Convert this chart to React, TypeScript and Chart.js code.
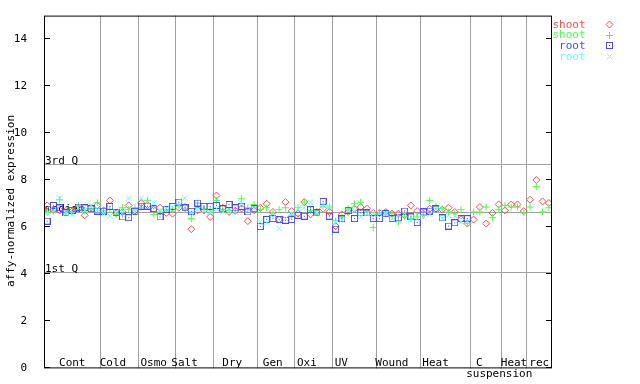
import React, { useEffect, useRef } from "react";
import { Chart, registerables } from "chart.js";
import { drawPoint } from "chart.js/helpers";

Chart.register(...registerables);

// ---- data ----
const groupLabels = ["Cont", "Cold  ", "Osmo ", "Salt   ", "Dry ", "Gen ", "Oxi  ", "UV    ", "Wound  ", "Heat   ", "C  ", "Heat", "rec"];
const groupSubLabels = ["", "", "", "", "", "", "", "", "", "", "    suspension", "", ""];
const groupSizes = [9, 6, 6, 6, 7, 6, 6, 7, 7, 8, 5, 4, 4];

const shootRep1 = [
  6.93, 6.75, 6.72, 6.70, 6.68, 6.80, 6.51, 6.83, 6.93,
  6.72, 7.14, 6.61, 6.65, 6.93, 6.70,
  7.03, 6.95, 6.75, 6.83, 6.61, 6.58,
  6.83, 6.86, 5.92, 6.72, 6.72, 6.44,
  7.35, 6.83, 6.65, 6.70, 6.80, 6.26, 6.72,
  6.83, 7.00, 6.65, 6.33, 7.07, 6.69,
  6.58, 7.07, 6.55, 6.65, 6.79, 6.65,
  6.05, 6.55, 6.65, 6.79, 6.86, 6.79, 6.61,
  6.61, 6.65, 6.58, 6.58, 6.51, 6.93, 6.69,
  6.58, 6.79, 6.79, 6.75, 6.83, 6.65, 6.34, 6.16,
  6.33, 6.86, 6.16, 6.61, 6.97,
  6.72, 6.97, 6.97, 6.69,
  7.17, 8.01, 7.10, 7.03,
];
const shootRep2 = [
  6.62, 6.69, 7.17, 6.65, 6.65, 6.93, 6.69, 6.80, 7.04,
  6.70, 6.75, 6.55, 6.83, 6.76, 6.83,
  6.85, 7.14, 6.55, 6.65, 6.75, 6.75,
  6.90, 6.75, 6.37, 7.03, 6.80, 6.70,
  7.14, 6.75, 6.72, 6.72, 7.21, 6.83, 6.97,
  6.75, 6.83, 6.58, 6.75, 6.83, 6.51,
  6.83, 7.07, 6.72, 6.61, 6.90, 6.86,
  6.27, 6.44, 6.79, 7.00, 7.07, 6.65, 5.99,
  6.58, 6.62, 6.58, 6.23, 6.47, 6.37, 6.47,
  6.51, 7.14, 6.90, 6.79, 6.65, 6.58, 6.75, 6.16,
  6.65, 6.65, 6.86, 6.41, 6.75,
  6.93, 6.86, 6.86, 6.61,
  6.86, 7.73, 6.65, 6.83,
];
const rootRep1 = [
  6.26, 6.93, 6.83, 6.62, 6.72, 6.86, 6.83, 6.79, 6.69,
  6.69, 6.89, 6.62, 6.44, 6.41, 6.68,
  6.90, 6.90, 6.79, 6.44, 6.76, 6.89,
  7.07, 6.83, 6.68, 7.03, 6.89, 6.89,
  6.93, 6.79, 6.97, 6.83, 6.89, 6.65, 6.79,
  6.03, 6.33, 6.37, 6.33, 6.30, 6.33,
  6.51, 6.47, 6.75, 6.61, 7.10, 6.47,
  5.92, 6.37, 6.72, 6.37, 6.61, 6.61, 6.37,
  6.37, 6.58, 6.37, 6.40, 6.69, 6.44, 6.20,
  6.65, 6.69, 6.79, 6.40, 6.05, 6.19, 6.37, 6.37,
];
const rootRep2 = [
  6.62, 6.70, 7.24, 6.60, 6.55, 6.83, 6.72, 6.93, 6.75,
  6.58, 6.48, 6.65, 6.62, 7.24, 6.65,
  7.24, 7.07, 7.03, 6.70, 6.79, 6.86,
  6.96, 7.24, 6.60, 6.75, 6.72, 6.65,
  6.80, 6.65, 6.70, 6.65, 7.03, 6.72, 6.79,
  6.23, 6.19, 6.58, 5.95, 6.37, 6.58,
  6.79, 6.83, 7.07, 6.61, 6.93, 6.86,
  6.23, 6.30, 6.72, 6.72, 6.44, 6.58, 6.58,
  6.58, 6.58, 6.37, 6.51, 6.58, 6.30, 6.37,
  6.44, 6.55, 6.75, 6.37, 6.51, 6.50, 6.23, 6.23,
];
const seriesLabels = ["shoot", "shoot", "root", "root"];
const yTicks = [0, 2, 4, 6, 8, 10, 12, 14];
const quartile3 = 8.69;
const medianValue = 6.64;
const quartile1 = 4.1;
const yTitle = "affy-normalized expression";

const FONT = '11px "DejaVu Sans Mono", monospace';
const RED = "#ff4848";
const GREEN = "#48ff48";
const BLUE = "#4848ff";
const CYAN = "#66ffff";
const GRAY = "#a0a0a0";

function squareDot(color: string): HTMLCanvasElement {
  const c = document.createElement("canvas");
  c.width = 7;
  c.height = 7;
  const g = c.getContext("2d")!;
  g.strokeStyle = color;
  g.lineWidth = 1;
  g.strokeRect(0.5, 0.5, 6, 6);
  g.fillStyle = color;
  g.fillRect(3, 3, 1, 1);
  return c;
}

const overlay = {
  id: "overlay",
  beforeDatasetsDraw(chart: any) {
    const { ctx, chartArea: a, scales } = chart;
    const x = scales.x;
    const y = scales.y;
    ctx.save();
    ctx.strokeStyle = GRAY;
    ctx.lineWidth = 1;
    // group separators
    const bounds: number[] = [a.left];
    let start = 0;
    groupSizes.forEach((n, gi) => {
      const last = start + n - 1;
      if (gi < groupSizes.length - 1) {
        const px = Math.round(x.getPixelForValue(last + 0.42)) + 0.5;
        ctx.beginPath();
        ctx.moveTo(px, a.top);
        ctx.lineTo(px, a.bottom);
        ctx.stroke();
        bounds.push(px);
      } else {
        bounds.push(a.right);
      }
      start += n;
    });
    // quartile lines
    [quartile3, medianValue, quartile1].forEach((v) => {
      const py = Math.round(y.getPixelForValue(v)) + 0.5;
      ctx.beginPath();
      ctx.moveTo(a.left, py);
      ctx.lineTo(a.right, py);
      ctx.stroke();
    });
    ctx.font = FONT;
    ctx.fillStyle = "#000";
    ctx.textBaseline = "alphabetic";
    ctx.textAlign = "left";
    ctx.fillText("3rd Q", a.left + 1, Math.round(y.getPixelForValue(quartile3)) - 0.5);
    ctx.fillText("median", a.left + 1, Math.round(y.getPixelForValue(medianValue)) - 0.5);
    ctx.fillText("1st Q", a.left + 1, Math.round(y.getPixelForValue(quartile1)) - 0.5);
    // group labels
    ctx.textAlign = "center";
    groupLabels.forEach((lab, gi) => {
      const cx = (bounds[gi] + bounds[gi + 1]) / 2;
      ctx.fillText(lab, cx, a.bottom - 2.5);
      if (groupSubLabels[gi]) ctx.fillText(groupSubLabels[gi], cx, a.bottom + 8.5);
    });
    ctx.restore();
  },
  afterDraw(chart: any) {
    const { ctx, chartArea: a, scales } = chart;
    const y = scales.y;
    ctx.save();
    ctx.strokeStyle = "#000";
    ctx.lineWidth = 1;
    ctx.strokeRect(a.left + 0.5, a.top + 0.5, a.right - a.left - 1, a.bottom - a.top - 1);
    ctx.beginPath();
    yTicks.forEach((t) => {
      const py = Math.round(y.getPixelForValue(t)) - 0.5;
      ctx.moveTo(a.left, py);
      ctx.lineTo(a.left + 6, py);
      ctx.moveTo(a.right, py);
      ctx.lineTo(a.right - 6, py);
    });
    ctx.stroke();
    // y title
    ctx.font = FONT;
    ctx.fillStyle = "#000";
    ctx.save();
    ctx.translate(11, 201);
    ctx.rotate(-Math.PI / 2);
    ctx.textAlign = "center";
    ctx.textBaseline = "middle";
    ctx.fillText(yTitle, 0, 0);
    ctx.restore();
    // legend
    chart.data.datasets.forEach((ds: any, i: number) => {
      const rowY = 24 + i * 10.7;
      ctx.font = FONT;
      ctx.textAlign = "right";
      ctx.textBaseline = "alphabetic";
      ctx.fillStyle = ds.borderColor;
      ctx.fillText(ds.label, 585.5, rowY + 3.5);
      ctx.strokeStyle = ds.borderColor;
      ctx.fillStyle = "rgba(0,0,0,0)";
      ctx.lineWidth = 1;
      drawPoint(ctx, { pointStyle: ds.pointStyle, radius: ds.pointRadius, rotation: 0, borderWidth: 1 }, 609.5, Math.round(rowY) + 0.5);
    });
    ctx.restore();
  },
};

export default function App() {
  const ref = useRef<HTMLCanvasElement | null>(null);
  useEffect(() => {
    document.body.style.margin = "0";
    if (!ref.current) return;
    const pts = (arr: number[]) => arr.map((v, i) => ({ x: i, y: v }));
    const chart = new Chart(ref.current, {
      type: "scatter",
      data: {
        datasets: [
          { label: seriesLabels[0], data: pts(shootRep1), pointStyle: "rectRot", pointRadius: 3.5, borderColor: RED, backgroundColor: "rgba(0,0,0,0)", borderWidth: 1, order: 4 },
          { label: seriesLabels[1], data: pts(shootRep2), pointStyle: "cross", pointRadius: 3.5, borderColor: GREEN, backgroundColor: "rgba(0,0,0,0)", borderWidth: 1, order: 3 },
          { label: seriesLabels[2], data: pts(rootRep1), pointStyle: squareDot(BLUE), pointRadius: 3.5, borderColor: BLUE, backgroundColor: "rgba(0,0,0,0)", borderWidth: 1, order: 2 },
          { label: seriesLabels[3], data: pts(rootRep2), pointStyle: "crossRot", pointRadius: 4, borderColor: CYAN, backgroundColor: "rgba(0,0,0,0)", borderWidth: 1, order: 1 },
        ] as any,
      },
      options: {
        animation: false,
        responsive: false,
        maintainAspectRatio: false,
        layout: { padding: { left: 0, right: 88, top: 13, bottom: 14 } },
        plugins: { legend: { display: false }, tooltip: { enabled: false } },
        scales: {
          x: { type: "linear", min: -0.5, max: 80.5, display: false },
          y: {
            type: "linear",
            min: 0,
            max: 15,
            afterFit(s: any) { s.width = 44; },
            afterBuildTicks(s: any) { s.ticks = yTicks.map((v) => ({ value: v })); },
            grid: { display: false },
            border: { display: false },
            ticks: { padding: 9, color: "#000", font: { family: "DejaVu Sans Mono", size: 11 }, autoSkip: false },
          },
        },
      } as any,
      plugins: [overlay],
    });
    return () => chart.destroy();
  }, []);
  return (
    <div style={{ width: 640, height: 384 }}>
      <canvas ref={ref} width={640} height={384} style={{ display: "block" }} />
    </div>
  );
}
